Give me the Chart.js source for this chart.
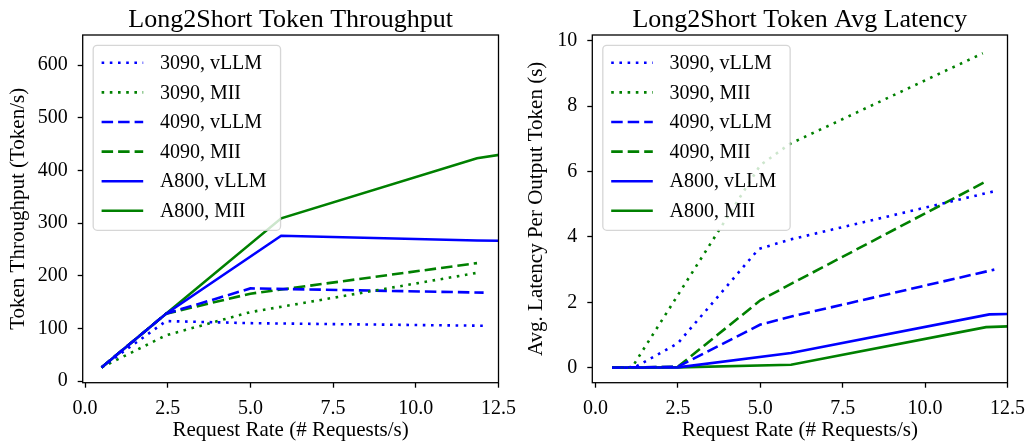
<!DOCTYPE html>
<html>
<head>
<meta charset="utf-8">
<script src="https://cdn.jsdelivr.net/npm/chart.js@4.4.0/dist/chart.umd.min.js"></script>
<style>
  body { margin: 0; background: #fff; width: 1034px; height: 444px; position: relative; overflow: hidden; }
  canvas { position: absolute; top: 0; }
  #tpChart { left: 0; }
  #latChart { left: 518px; }
</style>
</head>
<body>
<canvas id="tpChart" width="525" height="444"></canvas>
<canvas id="latChart" width="516" height="444"></canvas>
<script>
// Namen der Reihen (Reihenfolge wie in der Legende)
const seriesNames = ['3090, vLLM', '3090, MII', '4090, vLLM', '4090, MII', 'A800, vLLM', 'A800, MII'];

// Achsenbeschriftungen
const xTicks = [0, 2.5, 5, 7.5, 10, 12.5];
const tpTicks = [0, 100, 200, 300, 400, 500, 600];
const latTicks = [0, 2, 4, 6, 8, 10];

// Durchsatz (Token/s) je Request Rate
const tpRate3090vllm = [0.5, 2.45, 5.0, 12.15];
const tpVal3090vllm = [26, 114, 110, 105];
const tpRate3090mii = [0.5, 2.45, 5.0, 11.9];
const tpVal3090mii = [26, 87, 131, 206];
const tpRate4090vllm = [0.5, 2.45, 5.0, 12.05];
const tpVal4090vllm = [26, 128, 176, 168];
const tpRate4090mii = [0.5, 2.45, 5.0, 11.85];
const tpVal4090mii = [26, 128, 166, 224];
const tpRateA800vllm = [0.5, 2.45, 5.93, 11.85, 13];
const tpValA800vllm = [26, 128, 276, 267, 266];
const tpRateA800mii = [0.5, 2.45, 5.93, 11.85, 13];
const tpValA800mii = [26, 128, 309, 423, 434];

// Latenz pro Output-Token (s) je Request Rate
const latRate3090vllm = [0.5, 1.2, 2.5, 4.95, 5.9, 12.15];
const latVal3090vllm = [0.0, 0.02, 0.75, 3.63, 3.92, 5.41];
const latRate3090mii = [0.5, 1.1, 5.0, 5.9, 11.75];
const latVal3090mii = [0.0, 0.0, 6.2, 6.85, 9.62];
const latRate4090vllm = [0.5, 2.5, 5.0, 6.0, 12.1];
const latVal4090vllm = [0.0, 0.03, 1.32, 1.58, 3.0];
const latRate4090mii = [0.5, 2.5, 5.0, 6.0, 11.85];
const latVal4090mii = [0.0, 0.03, 2.06, 2.6, 5.7];
const latRateA800vllm = [0.5, 2.5, 5.93, 11.95, 13];
const latValA800vllm = [0.0, 0.01, 0.45, 1.63, 1.65];
const latRateA800mii = [0.5, 2.5, 5.93, 11.85, 13];
const latValA800mii = [0.0, 0.01, 0.09, 1.24, 1.28];

// Stil der Linien
const lineColors = ['#0000ff', '#008000', '#0000ff', '#008000', '#0000ff', '#008000'];
const lineDashes = [[2.6, 5.6], [2.6, 5.6], [11.5, 5], [11.5, 5], [], []];

const serif = "'Liberation Serif', 'Times New Roman', serif";

// Datensätze aus den Arrays bauen
function makeSets(rates, values) {
    return seriesNames.map((name, i) => ({
        label: name,
        data: rates[i].map((r, j) => ({ x: r, y: values[i][j] })),
        borderColor: lineColors[i],
        borderDash: lineDashes[i],
        borderWidth: 2.6,
        borderCapStyle: 'butt',
        pointRadius: 0,
        tension: 0,
        fill: false,
        clip: 0
    }));
}

// Titel über der Zeichenfläche, Rahmen und Legende oben links
const frameAndLegend = {
    id: 'frameAndLegend',
    afterDatasetsDraw(chart, args, opts) {
        const ctx = chart.ctx;
        const a = chart.chartArea;
        ctx.save();

        // Titel mittig über der Zeichenfläche
        ctx.font = '26px ' + serif;
        ctx.fillStyle = '#000';
        ctx.textAlign = 'center';
        ctx.textBaseline = 'alphabetic';
        ctx.fillText(opts.title, (a.left + a.right) / 2, 26.5);

        ctx.setLineDash([]);
        ctx.strokeStyle = '#000';
        ctx.lineWidth = 1.3;
        ctx.strokeRect(a.left, a.top, a.right - a.left, a.bottom - a.top);

        ctx.font = '20px ' + serif;
        const sets = chart.data.datasets;
        const textW = Math.max(...sets.map(d => ctx.measureText(d.label).width));
        const bx = a.left + 10.5;
        const by = a.top + 10.3;
        const bw = 66.7 + textW + 14;
        const bh = 185;
        ctx.beginPath();
        ctx.roundRect(bx, by, bw, bh, 4);
        ctx.fillStyle = 'rgba(255,255,255,0.8)';
        ctx.fill();
        ctx.strokeStyle = 'rgba(204,204,204,0.8)';
        ctx.lineWidth = 1.3;
        ctx.stroke();

        sets.forEach((d, i) => {
            const cy = by + 17.5 + i * 29.6;
            ctx.beginPath();
            ctx.setLineDash(d.borderDash);
            ctx.lineCap = 'butt';
            ctx.strokeStyle = d.borderColor;
            ctx.lineWidth = d.borderWidth;
            ctx.moveTo(bx + 8.4, cy);
            ctx.lineTo(bx + 50, cy);
            ctx.stroke();
            ctx.setLineDash([]);
            ctx.fillStyle = '#000';
            ctx.textAlign = 'left';
            ctx.textBaseline = 'middle';
            ctx.fillText(d.label, bx + 66.7, cy + 1);
        });
        ctx.restore();
    }
};

function buildChart(id, cfg) {
    const ctx = document.getElementById(id).getContext('2d');
    return new Chart(ctx, {
        type: 'line',
        data: { datasets: cfg.datasets },
        plugins: [frameAndLegend],
        options: {
            responsive: false,
            animation: false,
            devicePixelRatio: 1,
            layout: { padding: { left: 0, right: cfg.padRight, top: 35, bottom: 0 } },
            plugins: {
                legend: { display: false },
                tooltip: { enabled: false },
                title: { display: false },
                frameAndLegend: { title: cfg.title }
            },
            scales: {
                x: {
                    type: 'linear',
                    min: cfg.xMin,
                    max: 12.5,
                    afterBuildTicks: s => { s.ticks = xTicks.map(v => ({ value: v })); },
                    afterFit: s => { s.height = 61.3; },
                    ticks: {
                        color: '#000',
                        font: { family: serif, size: 20 },
                        padding: 9,
                        maxRotation: 0,
                        callback: v => v.toFixed(1)
                    },
                    grid: { drawOnChartArea: false, drawTicks: true, tickLength: 5, tickWidth: 1.3, tickColor: '#000' },
                    border: { display: false },
                    title: {
                        display: true,
                        text: 'Request Rate (# Requests/s)',
                        color: '#000',
                        font: { family: serif, size: 21 },
                        padding: { top: 0, bottom: 1 }
                    }
                },
                y: {
                    type: 'linear',
                    min: cfg.yMin,
                    max: cfg.yMax,
                    afterBuildTicks: s => { s.ticks = cfg.yTicks.map(v => ({ value: v })); },
                    afterFit: s => { s.width = cfg.yWidth; },
                    ticks: {
                        color: '#000',
                        font: { family: serif, size: 20 },
                        padding: 10,
                        callback: v => String(v)
                    },
                    grid: { drawOnChartArea: false, drawTicks: true, tickLength: 5, tickWidth: 1.3, tickColor: '#000' },
                    border: { display: false },
                    title: {
                        display: true,
                        text: cfg.yTitle,
                        color: '#000',
                        font: { family: serif, size: 21 },
                        padding: { top: 6, bottom: 0 }
                    }
                }
            }
        }
    });
}

buildChart('tpChart', {
    title: 'Long2Short Token Throughput',
    yTitle: 'Token Throughput (Token/s)',
    datasets: makeSets(
        [tpRate3090vllm, tpRate3090mii, tpRate4090vllm, tpRate4090mii, tpRateA800vllm, tpRateA800mii],
        [tpVal3090vllm, tpVal3090mii, tpVal4090vllm, tpVal4090mii, tpValA800vllm, tpValA800mii]
    ),
    xMin: -0.07,
    yMin: -3,
    yMax: 657,
    yTicks: tpTicks,
    yWidth: 82.7,
    padRight: 18
});

buildChart('latChart', {
    title: 'Long2Short Token Avg Latency',
    yTitle: 'Avg. Latency Per Output Token (s)',
    datasets: makeSets(
        [latRate3090vllm, latRate3090mii, latRate4090vllm, latRate4090mii, latRateA800vllm, latRateA800mii],
        [latVal3090vllm, latVal3090mii, latVal4090vllm, latVal4090mii, latValA800vllm, latValA800mii]
    ),
    xMin: -0.1,
    yMin: -0.46,
    yMax: 10.18,
    yTicks: latTicks,
    yWidth: 74.3,
    padRight: 17.3
});
</script>
</body>
</html>
